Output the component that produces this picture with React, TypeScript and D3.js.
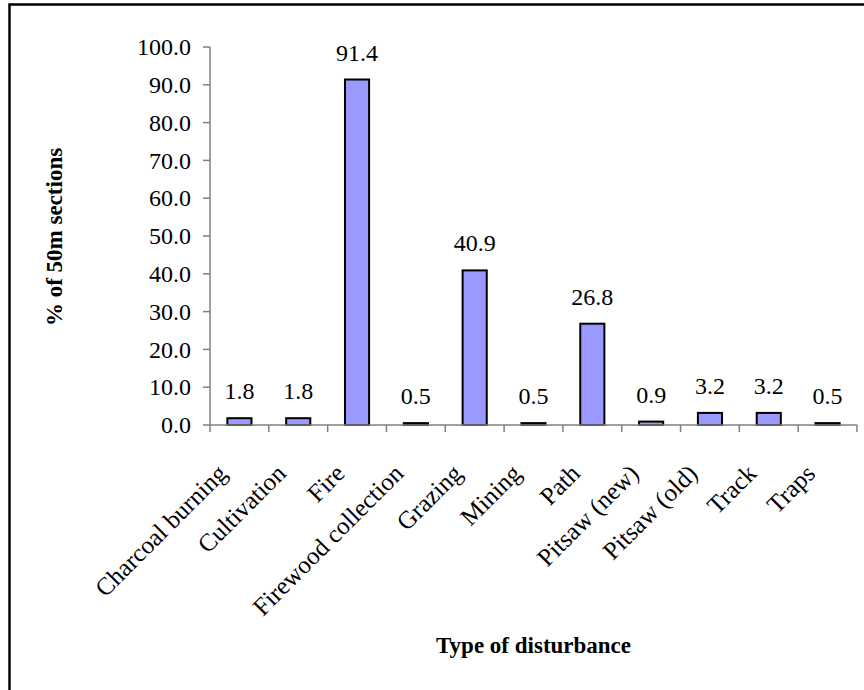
import React, { useEffect, useRef } from "react";
import * as d3 from "d3";

const categories = [
  "Charcoal burning",
  "Cultivation",
  "Fire",
  "Firewood collection",
  "Grazing",
  "Mining",
  "Path",
  "Pitsaw (new)",
  "Pitsaw (old)",
  "Track",
  "Traps",
];
const values = [1.8, 1.8, 91.4, 0.5, 40.9, 0.5, 26.8, 0.9, 3.2, 3.2, 0.5];
const yTicks = [0, 10, 20, 30, 40, 50, 60, 70, 80, 90, 100];
const yTitle = "% of 50m sections";
const xTitle = "Type of disturbance";

const W = 864;
const H = 690;
const FONT = "'Times New Roman', 'Liberation Serif', serif";

export default function App() {
  const ref = useRef<SVGSVGElement>(null);

  useEffect(() => {
    const svg = d3.select(ref.current);
    svg.selectAll("*").remove();

    const left = 210, right = 857, top = 47, bottom = 425;
    const x = d3
      .scaleBand<string>()
      .domain(categories)
      .range([left, right])
      .paddingInner(0.59)
      .paddingOuter(0.295);
    const y = d3.scaleLinear().domain([0, 100]).range([bottom, top]);
    const step = x.step();

    svg
      .append("rect")
      .attr("x", 0)
      .attr("y", 0)
      .attr("width", W)
      .attr("height", H)
      .attr("fill", "white");

    // frame
    svg
      .append("rect")
      .attr("x", 9.5)
      .attr("y", 4.5)
      .attr("width", W + 20)
      .attr("height", H + 20)
      .attr("fill", "none")
      .attr("stroke", "black")
      .attr("stroke-width", 2.5);

    // y axis
    const gy = svg.append("g");
    gy.append("line")
      .attr("x1", left)
      .attr("x2", left)
      .attr("y1", y(100))
      .attr("y2", y(0))
      .attr("stroke", "#808080")
      .attr("stroke-width", 1.5);
    yTicks.forEach((t) => {
      gy.append("line")
        .attr("x1", left - 7)
        .attr("x2", left)
        .attr("y1", y(t))
        .attr("y2", y(t))
        .attr("stroke", "#808080")
        .attr("stroke-width", 1.5);
      gy.append("text")
        .attr("x", 191)
        .attr("y", y(t))
        .attr("dy", "0.34em")
        .attr("text-anchor", "end")
        .style("font-family", FONT)
        .style("font-size", "24px")
        .attr("fill", "black")
        .text(d3.format(".1f")(t));
    });

    // bars
    svg
      .append("g")
      .selectAll("rect")
      .data(values)
      .join("rect")
      .attr("x", (_, i) => x(categories[i])!)
      .attr("width", x.bandwidth())
      .attr("y", (d) => y(d))
      .attr("height", (d) => y(0) - y(d))
      .attr("fill", "#9999FF")
      .attr("stroke", "black")
      .attr("stroke-width", 2);

    // x axis
    const gx = svg.append("g");
    gx.append("line")
      .attr("x1", left)
      .attr("x2", right)
      .attr("y1", y(0))
      .attr("y2", y(0))
      .attr("stroke", "#808080")
      .attr("stroke-width", 1.5);
    d3.range(categories.length + 1).forEach((i) => {
      const tx = left + i * step;
      gx.append("line")
        .attr("x1", tx)
        .attr("x2", tx)
        .attr("y1", y(0))
        .attr("y2", y(0) + 7)
        .attr("stroke", "#808080")
        .attr("stroke-width", 1.5);
    });

    // value labels
    svg
      .append("g")
      .selectAll("text")
      .data(values)
      .join("text")
      .attr("x", (_, i) => x(categories[i])! + x.bandwidth() / 2)
      .attr("y", (d) => y(d) - 19)
      .attr("text-anchor", "middle")
      .style("font-family", FONT)
      .style("font-size", "24px")
      .attr("fill", "black")
      .text((d) => d3.format(".1f")(d));

    // category labels
    svg
      .append("g")
      .selectAll("text")
      .data(categories)
      .join("text")
      .attr("transform", (d) => {
        const cx = x(d)! + x.bandwidth() / 2;
        return `translate(${cx - 11},${475}) rotate(-45)`;
      })
      .attr("text-anchor", "end")
      .style("font-family", FONT)
      .style("font-size", "25px")
      .attr("fill", "black")
      .text((d) => d);

    // axis titles
    svg
      .append("text")
      .attr("transform", `translate(62,237) rotate(-90)`)
      .attr("text-anchor", "middle")
      .style("font-family", FONT)
      .style("font-weight", "bold")
      .style("font-size", "23px")
      .attr("fill", "black")
      .text(yTitle);

    svg
      .append("text")
      .attr("x", (left + right) / 2)
      .attr("y", 653)
      .attr("text-anchor", "middle")
      .style("font-family", FONT)
      .style("font-weight", "bold")
      .style("font-size", "23px")
      .attr("fill", "black")
      .text(xTitle);
  }, []);

  return (
    <svg
      ref={ref}
      width={W}
      height={H}
      style={{ position: "absolute", left: 0, top: 0, display: "block" }}
    />
  );
}
